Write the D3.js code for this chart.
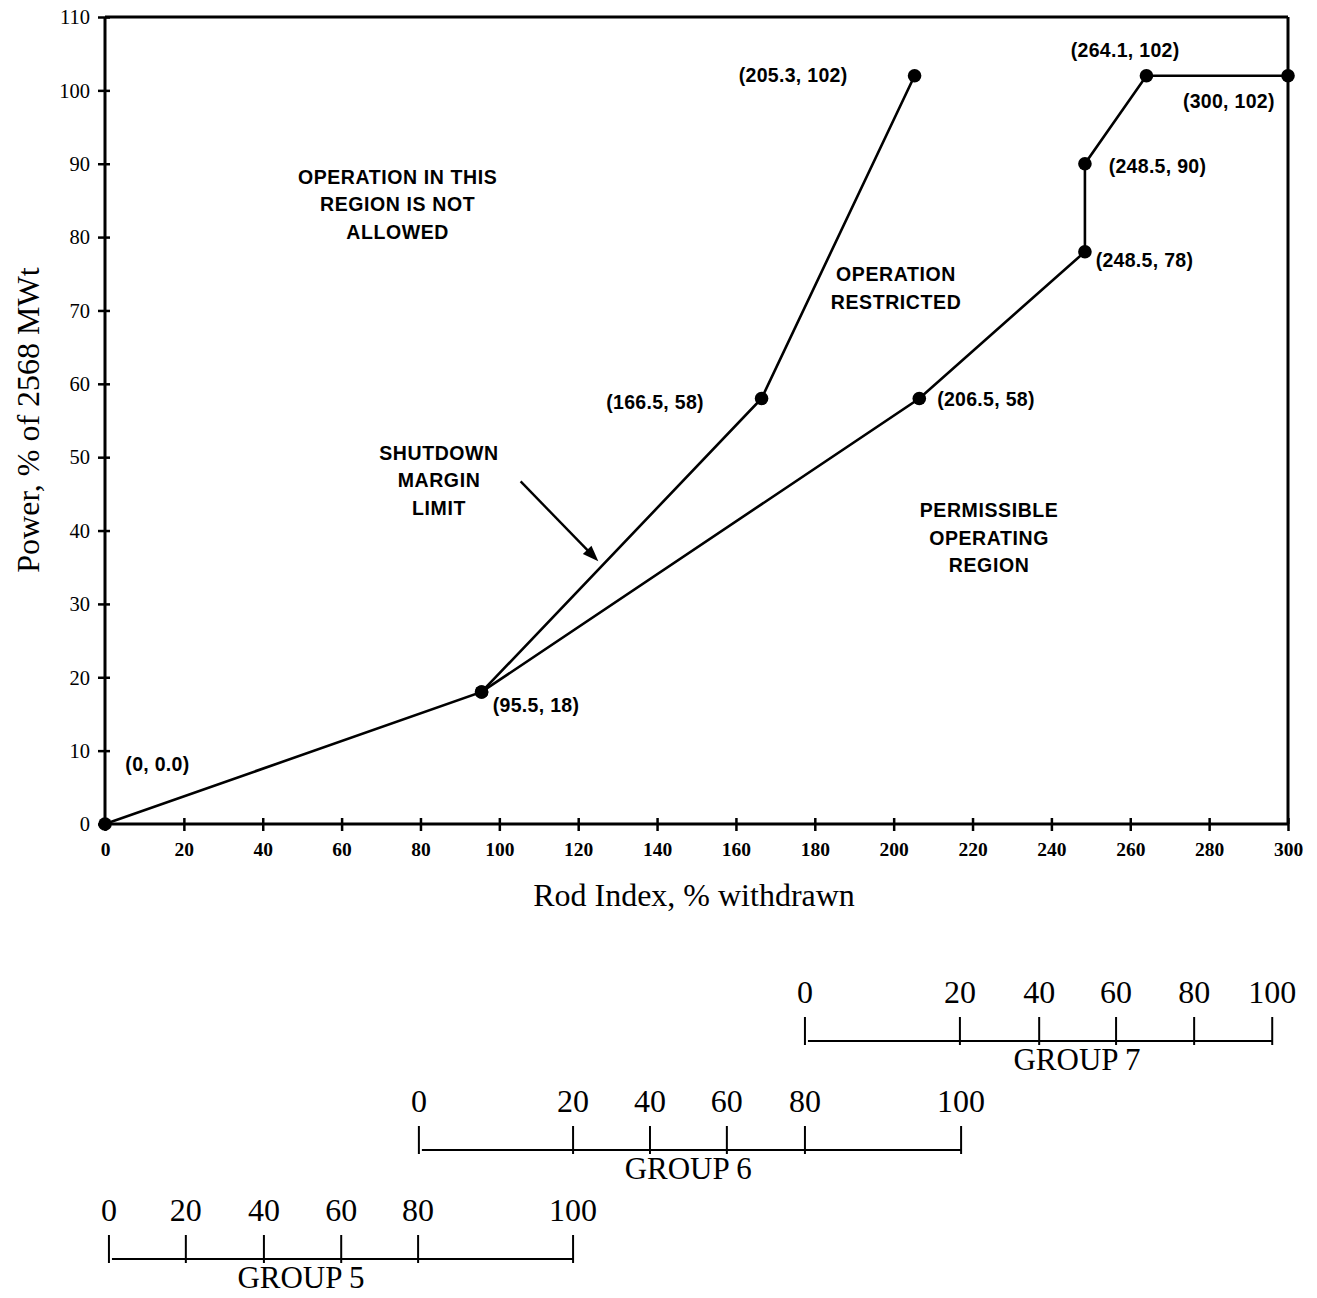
<!DOCTYPE html>
<html><head><meta charset="utf-8">
<script src="https://cdn.jsdelivr.net/npm/d3@7"></script>
<style>body{margin:0;background:#fff}</style>
</head><body>
<svg id="c" width="1317" height="1298"></svg>
<script>
const xTicks = [0,20,40,60,80,100,120,140,160,180,200,220,240,260,280,300];
const yTicks = [0,10,20,30,40,50,60,70,80,90,100,110];
const limitLine = [[0,0],[95.5,18],[166.5,58],[205.3,102]];
const permitLine = [[95.5,18],[206.5,58],[248.5,78],[248.5,90],[264.1,102],[300,102]];
const pointLabels = [
  {t:"(0, 0.0)", x:13.3, y:8.2},
  {t:"(95.5, 18)", x:109.3, y:16.2},
  {t:"(166.5, 58)", x:139.5, y:57.5},
  {t:"(206.5, 58)", x:223.4, y:57.9},
  {t:"(248.5, 78)", x:263.6, y:76.9},
  {t:"(248.5, 90)", x:266.9, y:89.7},
  {t:"(205.3, 102)", x:174.5, y:102.1},
  {t:"(264.1, 102)", x:258.7, y:105.5},
  {t:"(300, 102)", x:285, y:98.5}
];
const regionTexts = [
  {lines:["OPERATION IN THIS","REGION IS NOT","ALLOWED"], x:74.2, y:88.2},
  {lines:["OPERATION","RESTRICTED"], x:200.6, y:74.9},
  {lines:["SHUTDOWN","MARGIN","LIMIT"], x:84.7, y:50.6},
  {lines:["PERMISSIBLE","OPERATING","REGION"], x:224.2, y:42.8}
];
const arrow = [[105.4,46.7],[125.1,35.8]];
const groupLabels = [0,20,40,60,80,100];
const group5Pos = [1.0,20.5,40.3,59.9,79.4,118.7];
const group6Pos = [79.6,118.7,138.2,157.7,177.5,217.1];
const group7Pos = [177.5,216.8,236.9,256.4,276.2,296.0];
const groups = [
  {name:"GROUP 7", pos:group7Pos, nameAt:246.5, baseY:1041},
  {name:"GROUP 6", pos:group6Pos, nameAt:147.9, baseY:1150},
  {name:"GROUP 5", pos:group5Pos, nameAt:49.7, baseY:1259}
];

const svg = d3.select("#c");
const x = d3.scaleLinear().domain([0,300]).range([105,1288]);
const y = d3.scaleLinear().domain([0,110]).range([824,17]);
const SERIF = "Liberation Serif, Times New Roman, serif";
const SANS = "Liberation Sans, Arial, sans-serif";

// frame top/right
svg.append("line").attr("x1",x(0)).attr("x2",x(300)).attr("y1",y(110)).attr("y2",y(110)).attr("stroke","#000").attr("stroke-width",3);
svg.append("line").attr("x1",x(300)).attr("x2",x(300)).attr("y1",y(110)).attr("y2",y(0)).attr("stroke","#000").attr("stroke-width",3);

// x axis
const gx = svg.append("g").attr("transform",`translate(0,${y(0)})`)
  .call(d3.axisBottom(x).tickValues(xTicks).tickSize(6).tickFormat(d3.format("d")));
gx.select(".domain").attr("stroke-width",3).attr("d",`M${x(0)},0H${x(300)}`);
gx.selectAll(".tick line").attr("y1",-6).attr("y2",7).attr("stroke-width",2.5);
gx.selectAll(".tick text").attr("y",32).attr("dy",0).attr("font-family",SERIF).attr("font-weight","bold").attr("font-size",19.5).attr("fill","#000");

// y axis
const gy = svg.append("g").attr("transform",`translate(${x(0)},0)`)
  .call(d3.axisLeft(y).tickValues(yTicks).tickSize(6).tickFormat(d3.format("d")));
gy.select(".domain").attr("stroke-width",3).attr("d",`M0,${y(0)}V${y(110)}`);
gy.selectAll(".tick line").attr("x1",-7).attr("x2",5).attr("stroke-width",2.5);
gy.selectAll(".tick text").attr("x",-15).attr("dy","0.33em").attr("font-family",SERIF).attr("font-size",20.5).attr("fill","#000");

// axis titles
svg.append("text").attr("x",694).attr("y",906).attr("text-anchor","middle")
  .attr("font-family",SERIF).attr("font-size",32).text("Rod Index, % withdrawn");
svg.append("text").attr("transform","translate(39,420) rotate(-90)").attr("text-anchor","middle")
  .attr("font-family",SERIF).attr("font-size",32).text("Power, % of 2568 MWt");

// lines
const line = d3.line().x(d=>x(d[0])).y(d=>y(d[1]));
[limitLine, permitLine].forEach(data=>{
  svg.append("path").datum(data).attr("d",line).attr("fill","none").attr("stroke","#000").attr("stroke-width",2.6);
});
const pts = limitLine.concat(permitLine);
svg.selectAll("circle.pt").data(pts).join("circle").attr("class","pt")
  .attr("cx",d=>x(d[0])).attr("cy",d=>y(d[1])).attr("r",6.8).attr("fill","#000");

// point labels
svg.selectAll("text.pl").data(pointLabels).join("text").attr("class","pl")
  .attr("x",d=>x(d.x)).attr("y",d=>y(d.y)).attr("dy","0.35em").attr("text-anchor","middle")
  .attr("font-family",SANS).attr("font-weight","bold").attr("font-size",19.5).attr("letter-spacing",0.3).text(d=>d.t);

// region texts
regionTexts.forEach(r=>{
  r.lines.forEach((l,i)=>{
    svg.append("text").attr("x",x(r.x)).attr("y",y(r.y)+i*27.7).attr("dy","0.35em").attr("text-anchor","middle")
      .attr("font-family",SANS).attr("font-weight","bold").attr("font-size",19.5).attr("letter-spacing",0.6).text(l);
  });
});

// arrow
const ax1=x(arrow[0][0]), ay1=y(arrow[0][1]), ax2=x(arrow[1][0]), ay2=y(arrow[1][1]);
const ang=Math.atan2(ay2-ay1,ax2-ax1);
svg.append("line").attr("x1",ax1).attr("y1",ay1).attr("x2",ax2-10*Math.cos(ang)).attr("y2",ay2-10*Math.sin(ang)).attr("stroke","#000").attr("stroke-width",2.4);
const hl=16, hw=6;
const bx=ax2-hl*Math.cos(ang), by=ay2-hl*Math.sin(ang);
svg.append("path").attr("d",`M${ax2},${ay2}L${bx+hw*Math.sin(ang)},${by-hw*Math.cos(ang)}L${bx-hw*Math.sin(ang)},${by+hw*Math.cos(ang)}Z`).attr("fill","#000");

// group scales
groups.forEach(g=>{
  const gg = svg.append("g");
  gg.append("line").attr("x1",x(g.pos[0])+3).attr("x2",x(g.pos[g.pos.length-1])).attr("y1",g.baseY).attr("y2",g.baseY).attr("stroke","#000").attr("stroke-width",1.8);
  gg.selectAll("line.t").data(g.pos).join("line").attr("class","t")
    .attr("x1",d=>x(d)).attr("x2",d=>x(d)).attr("y1",g.baseY-24).attr("y2",g.baseY+4).attr("stroke","#000").attr("stroke-width",2);
  gg.selectAll("text.l").data(g.pos).join("text").attr("class","l")
    .attr("x",d=>x(d)).attr("y",g.baseY-38).attr("text-anchor","middle")
    .attr("font-family",SERIF).attr("font-size",32)
    .text((d,i)=>groupLabels[i]);
  gg.append("text").attr("x",x(g.nameAt)).attr("y",g.baseY+29).attr("text-anchor","middle")
    .attr("font-family",SERIF).attr("font-size",31).text(g.name);
});
</script>
</body></html>
